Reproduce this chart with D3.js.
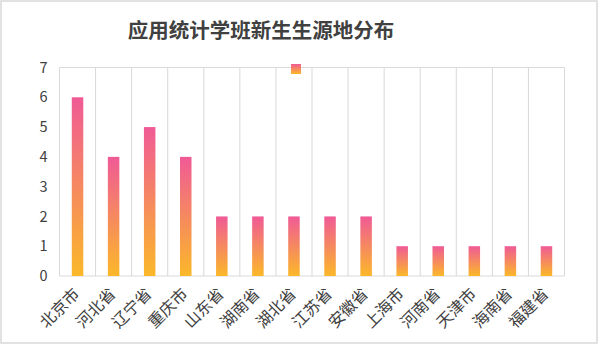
<!DOCTYPE html>
<html><head><meta charset="utf-8">
<script src="https://cdn.jsdelivr.net/npm/d3@7"></script>
<style>body{margin:0;background:#fff}svg{display:block}</style>
</head><body>
<script>
const title = "应用统计学班新生生源地分布";
const categories = ["北京市","河北省","辽宁省","重庆市","山东省","湖南省","湖北省","江苏省","安徽省","上海市","河南省","天津市","海南省","福建省"];
const values = [6,4,5,4,2,2,2,2,2,1,1,1,1,1];
const yTicks = [0,1,2,3,4,5,6,7];

const W = 598, H = 355;
const m = {left:59.5, right:33.5, top:67.5, bottom:79};
const svg = d3.select("body").append("svg").attr("width",W).attr("height",H);
const font = "'Noto Sans CJK SC','Microsoft YaHei',sans-serif";

const defs = svg.append("defs");
const g1 = defs.append("linearGradient").attr("id","barGrad").attr("x1",0).attr("y1",0).attr("x2",0).attr("y2",1);
g1.append("stop").attr("offset","0%").attr("stop-color","#F05A96");
g1.append("stop").attr("offset","100%").attr("stop-color","#FBB829");

svg.append("rect").attr("x",1).attr("y",1).attr("width",596).attr("height",342)
  .attr("fill","#fff").attr("stroke","#d9d9d9").attr("stroke-width",1.5);

svg.append("text").attr("x",261).attr("y",38).attr("text-anchor","middle")
  .attr("font-family",font).attr("font-weight","bold").attr("font-size",20.5)
  .attr("fill","#404040").text(title);

const x = d3.scaleBand().domain(categories).range([m.left, W-m.right]).padding(0);
const y = d3.scaleLinear().domain([0,7]).range([H-m.bottom, m.top]);

// vertical gridlines at band boundaries
const bounds = categories.map(c=>x(c)).concat([x(categories[categories.length-1])+x.bandwidth()]);
svg.append("g").selectAll("line").data(bounds).join("line")
  .attr("x1",d=>d).attr("x2",d=>d).attr("y1",y(7)).attr("y2",y(0))
  .attr("stroke","#d9d9d9").attr("stroke-width",1);
svg.append("line").attr("x1",x.range()[0]).attr("x2",x.range()[1]).attr("y1",y(7)).attr("y2",y(7))
  .attr("stroke","#d9d9d9");
svg.append("line").attr("x1",x.range()[0]).attr("x2",x.range()[1]).attr("y1",y(0)).attr("y2",y(0))
  .attr("stroke","#d9d9d9");

const bw = 11.5;
svg.append("g").selectAll("rect").data(values).join("rect")
  .attr("x",(d,i)=>x(categories[i])+x.bandwidth()/2-bw/2)
  .attr("width",bw)
  .attr("y",d=>y(d)).attr("height",d=>y(0)-y(d))
  .attr("fill","url(#barGrad)");

// legend marker (unnamed series)
svg.append("rect").attr("x",291).attr("y",64).attr("width",10).attr("height",10).attr("fill","url(#barGrad)");

// y axis labels
const yAxis = d3.axisLeft(y).tickValues(yTicks).tickSize(0).tickPadding(12).tickFormat(d3.format("d"));
const ya = svg.append("g").attr("transform",`translate(${m.left},0)`).call(yAxis);
ya.select(".domain").remove();
ya.selectAll("text").attr("font-family",font).attr("font-size",14.5).attr("fill","#404040");

// x axis labels
const xAxis = d3.axisBottom(x).tickSize(0).tickPadding(0);
const xa = svg.append("g").attr("transform",`translate(0,${y(0)})`).call(xAxis);
xa.select(".domain").remove();
xa.selectAll("text").attr("font-family",font).attr("font-size",16).attr("fill","#404040")
  .attr("text-anchor","end").attr("dy",0).attr("y",0)
  .attr("transform","translate(3,19) rotate(-45)");
</script>
</body></html>
